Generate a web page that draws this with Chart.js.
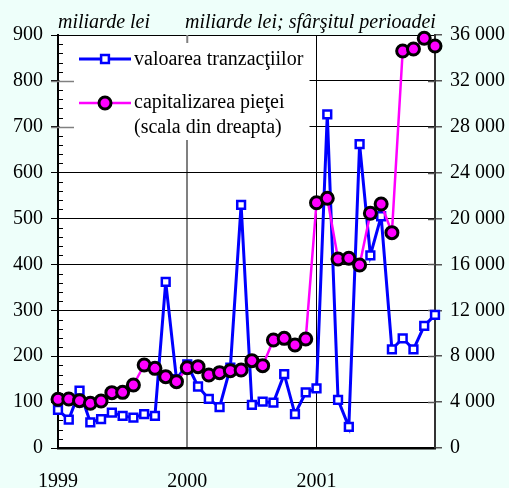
<!DOCTYPE html>
<html><head><meta charset="utf-8">
<script src="https://cdn.jsdelivr.net/npm/chart.js@4.4.1/dist/chart.umd.min.js"></script>
<style>html,body{margin:0;padding:0;background:#EEFFFA;}#wrap{width:509px;height:488px;}</style>
</head><body><div id="wrap"><canvas id="c" width="509" height="488"></canvas></div>
<script>
const months = ['1999-01','1999-02','1999-03','1999-04','1999-05','1999-06','1999-07','1999-08','1999-09','1999-10','1999-11','1999-12',
'2000-01','2000-02','2000-03','2000-04','2000-05','2000-06','2000-07','2000-08','2000-09','2000-10','2000-11','2000-12',
'2001-01','2001-02','2001-03','2001-04','2001-05','2001-06','2001-07','2001-08','2001-09','2001-10','2001-11','2001-12'];
const yearLabels = ['1999','2000','2001'];
const tranzactii = [83,62,125,56,63,77,70,66,74,70,362,150,182,134,107,89,175,530,94,101,99,161,74,121,130,727,105,46,662,420,505,215,239,215,266,290];
const capitalizare = [4245,4270,4125,3895,4097,4823,4852,5492,7235,6945,6218,5782,7000,7090,6364,6566,6740,6800,7612,7176,9414,9560,8979,9502,21380,21765,16475,16535,15950,20460,21270,18770,34606,34780,35713,35040];
const leftUnit = 'miliarde lei';
const rightUnit = 'miliarde lei; sfârşitul perioadei';
const legendTexts = ['valoarea tranzacţiilor', 'capitalizarea pieţei', '(scala din dreapta)'];

const SERIF = '"Liberation Serif","Times New Roman",serif';
const BLUE = '#0000FF', MAG = '#FF00FF';

const decor = {
  id: 'decor',
  beforeDraw(chart) {
    const {ctx, chartArea: a} = chart;
    ctx.save();
    ctx.fillStyle = '#FFFFFF';
    ctx.fillRect(a.left, a.top, a.right - a.left, a.bottom - a.top);
    ctx.restore();
  },
  beforeDatasetsDraw(chart) {
    const {ctx, chartArea: a, scales} = chart;
    const yl = scales.y, yr = scales.y1, x = scales.x;
    ctx.save();
    // legend box
    ctx.fillStyle = '#FFFFFF';
    ctx.fillRect(a.left + 1.5, a.top + 1, 250, 104);
    // minor ticks left axis
    ctx.strokeStyle = '#000'; ctx.lineWidth = 1;
    for (let v = 20; v < 900; v += 20) {
      if (v % 100 === 0) continue;
      const py = Math.round(yl.getPixelForValue(v)) + 0.5;
      ctx.beginPath(); ctx.moveTo(a.left, py); ctx.lineTo(a.left + 5, py); ctx.stroke();
    }
    // major ticks crossing, under legend
    ctx.strokeStyle = '#808080'; ctx.lineWidth = 1.5;
    [700, 800].forEach(v => {
      const py = Math.round(yl.getPixelForValue(v)) + 0.5;
      ctx.beginPath(); ctx.moveTo(a.left - 7, py); ctx.lineTo(a.left + 16, py); ctx.stroke();
    });
    // right axis inward ticks
    ctx.strokeStyle = '#555'; ctx.lineWidth = 1.5;
    for (let v = 4000; v < 36000; v += 4000) {
      const py = Math.round(yr.getPixelForValue(v)) + 0.5;
      ctx.beginPath(); ctx.moveTo(a.right - 7, py); ctx.lineTo(a.right, py); ctx.stroke();
    }
    // top tick at 2000
    const px = x.getPixelForValue(12);
    ctx.strokeStyle = '#808080'; ctx.lineWidth = 2;
    ctx.beginPath(); ctx.moveTo(px, a.top); ctx.lineTo(px, a.top + 8); ctx.stroke();
    // legend items
    const ds = chart.data.datasets;
    const lx0 = 79, lx1 = 131, mx = 105;
    const y1 = 59, y2 = 103;
    ctx.lineWidth = ds[1].borderWidth; ctx.strokeStyle = ds[1].borderColor;
    ctx.beginPath(); ctx.moveTo(lx0, y1); ctx.lineTo(lx1, y1); ctx.stroke();
    ctx.fillStyle = ds[1].pointBackgroundColor; ctx.strokeStyle = ds[1].borderColor; ctx.lineWidth = ds[1].pointBorderWidth;
    ctx.beginPath();
    const s = ds[1].pointRadius * Math.SQRT1_2;
    ctx.rect(mx - s, y1 - s, 2 * s, 2 * s); ctx.fill(); ctx.stroke();
    ctx.lineWidth = ds[0].borderWidth; ctx.strokeStyle = ds[0].borderColor;
    ctx.beginPath(); ctx.moveTo(lx0, y2); ctx.lineTo(lx1, y2); ctx.stroke();
    ctx.fillStyle = ds[0].pointBackgroundColor; ctx.strokeStyle = ds[0].pointBorderColor; ctx.lineWidth = ds[0].pointBorderWidth;
    ctx.beginPath(); ctx.arc(mx, y2, ds[0].pointRadius, 0, Math.PI * 2); ctx.fill(); ctx.stroke();
    ctx.fillStyle = '#000';
    ctx.font = '20px ' + SERIF;
    ctx.textBaseline = 'middle'; ctx.textAlign = 'left';
    ctx.fillText(legendTexts[0], 134, y1 + 1);
    ctx.fillText(legendTexts[1], 134, y2);
    ctx.fillText(legendTexts[2], 134, y2 + 25);
    ctx.restore();
  },
  afterDraw(chart) {
    const {ctx} = chart;
    ctx.save();
    ctx.fillStyle = '#000';
    ctx.font = 'italic 20px ' + SERIF;
    ctx.textBaseline = 'alphabetic'; ctx.textAlign = 'left';
    ctx.fillText(leftUnit, 58, 28);
    ctx.fillText(rightUnit, 185, 28);
    ctx.restore();
  }
};

new Chart(document.getElementById('c'), {
  type: 'line',
  data: {
    labels: months,
    datasets: [
      {
        label: legendTexts[1] + ' ' + legendTexts[2],
        data: capitalizare, yAxisID: 'y1', order: 1,
        borderColor: MAG, borderWidth: 2.5, tension: 0,
        pointStyle: 'circle', pointRadius: 6, pointBorderWidth: 3,
        pointBackgroundColor: MAG, pointBorderColor: '#000', clip: false
      },
      {
        label: legendTexts[0],
        data: tranzactii, yAxisID: 'y', order: 2,
        borderColor: BLUE, borderWidth: 3, tension: 0,
        pointStyle: 'rect', pointRadius: 5.5, pointBorderWidth: 2.5,
        pointBackgroundColor: '#FFFFFF', pointBorderColor: BLUE, clip: false
      }
    ]
  },
  options: {
    responsive: false, animation: false, devicePixelRatio: 1,
    layout: {padding: {top: 35, left: 0, right: 0, bottom: 0}},
    plugins: {legend: {display: false}, tooltip: {enabled: false}},
    scales: {
      x: {
        type: 'category', offset: false,
        afterFit(s) { s.height = 40; },
        grid: {
          drawTicks: false, drawOnChartArea: true,
          color: c => c.index === 12 ? '#808080' : (c.index === 24 ? '#000000' : 'rgba(0,0,0,0)'),
          lineWidth: c => c.index === 12 ? 2 : 1
        },
        border: {color: '#000', width: 2.5},
        ticks: {
          autoSkip: false, maxRotation: 0, padding: 22, color: '#000',
          font: {family: SERIF, size: 20},
          callback: (v, i) => (i % 12 === 0 ? yearLabels[i / 12] : '')
        }
      },
      y: {
        position: 'left', min: 0, max: 900,
        afterFit(s) { s.width = 58; },
        grid: {color: '#000', lineWidth: 1, tickLength: 7, drawTicks: true},
        border: {color: '#000', width: 2},
        ticks: {stepSize: 100, padding: 8, color: '#000', font: {family: SERIF, size: 20}}
      },
      y1: {
        position: 'right', min: 0, max: 36000,
        afterFit(s) { s.width = 74; },
        grid: {drawOnChartArea: false, color: '#555', lineWidth: 1.5, tickLength: 7},
        border: {color: '#333', width: 2},
        ticks: {
          stepSize: 4000, padding: 8, color: '#000', font: {family: SERIF, size: 20},
          callback: v => v === 0 ? '0' : (Math.floor(v / 1000) + ' ' + String(v % 1000).padStart(3, '0'))
        }
      }
    }
  },
  plugins: [decor]
});
</script></body></html>
